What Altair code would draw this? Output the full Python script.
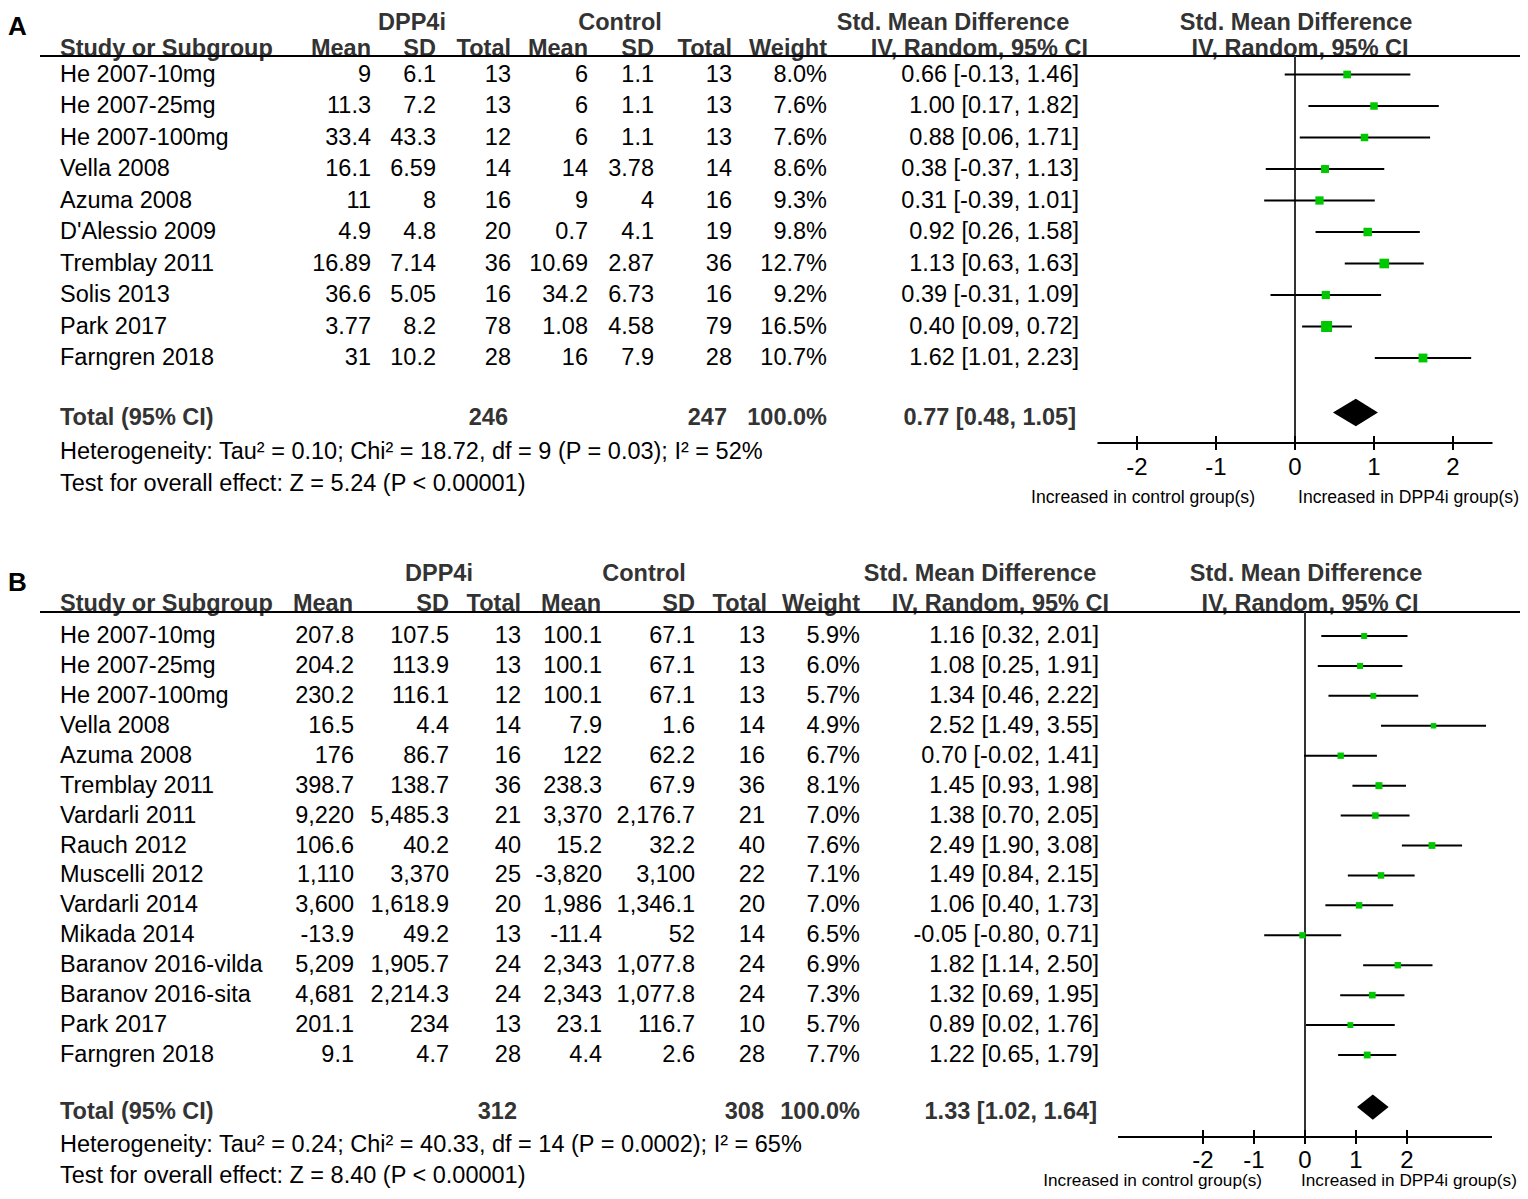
import altair as alt
import pandas as pd

FONT = "Liberation Sans"
FS = 23.5
GRAY = "#333333"
GREEN = "#00c800"

# ---------------- Panel A data ----------------
a_study = ["He 2007-10mg", "He 2007-25mg", "He 2007-100mg", "Vella 2008", "Azuma 2008",
           "D'Alessio 2009", "Tremblay 2011", "Solis 2013", "Park 2017", "Farngren 2018"]
a_dpp_mean = ["9", "11.3", "33.4", "16.1", "11", "4.9", "16.89", "36.6", "3.77", "31"]
a_dpp_sd = ["6.1", "7.2", "43.3", "6.59", "8", "4.8", "7.14", "5.05", "8.2", "10.2"]
a_dpp_n = [13, 13, 12, 14, 16, 20, 36, 16, 78, 28]
a_ctl_mean = ["6", "6", "6", "14", "9", "0.7", "10.69", "34.2", "1.08", "16"]
a_ctl_sd = ["1.1", "1.1", "1.1", "3.78", "4", "4.1", "2.87", "6.73", "4.58", "7.9"]
a_ctl_n = [13, 13, 13, 14, 16, 19, 36, 16, 79, 28]
a_weight = [8.0, 7.6, 7.6, 8.6, 9.3, 9.8, 12.7, 9.2, 16.5, 10.7]
a_smd = [0.66, 1.00, 0.88, 0.38, 0.31, 0.92, 1.13, 0.39, 0.40, 1.62]
a_lo = [-0.13, 0.17, 0.06, -0.37, -0.39, 0.26, 0.63, -0.31, 0.09, 1.01]
a_hi = [1.46, 1.82, 1.71, 1.13, 1.01, 1.58, 1.63, 1.09, 0.72, 2.23]
a_tot_n = [246, 247]
a_tot_est = [0.77, 0.48, 1.05]
a_het = "Heterogeneity: Tau² = 0.10; Chi² = 18.72, df = 9 (P = 0.03); I² = 52%"
a_test = "Test for overall effect: Z = 5.24 (P < 0.00001)"

# ---------------- Panel B data ----------------
b_study = ["He 2007-10mg", "He 2007-25mg", "He 2007-100mg", "Vella 2008", "Azuma 2008",
           "Tremblay 2011", "Vardarli 2011", "Rauch 2012", "Muscelli 2012", "Vardarli 2014",
           "Mikada 2014", "Baranov 2016-vilda", "Baranov 2016-sita", "Park 2017", "Farngren 2018"]
b_dpp_mean = ["207.8", "204.2", "230.2", "16.5", "176", "398.7", "9,220", "106.6", "1,110",
              "3,600", "-13.9", "5,209", "4,681", "201.1", "9.1"]
b_dpp_sd = ["107.5", "113.9", "116.1", "4.4", "86.7", "138.7", "5,485.3", "40.2", "3,370",
            "1,618.9", "49.2", "1,905.7", "2,214.3", "234", "4.7"]
b_dpp_n = [13, 13, 12, 14, 16, 36, 21, 40, 25, 20, 13, 24, 24, 13, 28]
b_ctl_mean = ["100.1", "100.1", "100.1", "7.9", "122", "238.3", "3,370", "15.2", "-3,820",
              "1,986", "-11.4", "2,343", "2,343", "23.1", "4.4"]
b_ctl_sd = ["67.1", "67.1", "67.1", "1.6", "62.2", "67.9", "2,176.7", "32.2", "3,100",
            "1,346.1", "52", "1,077.8", "1,077.8", "116.7", "2.6"]
b_ctl_n = [13, 13, 13, 14, 16, 36, 21, 40, 22, 20, 14, 24, 24, 10, 28]
b_weight = [5.9, 6.0, 5.7, 4.9, 6.7, 8.1, 7.0, 7.6, 7.1, 7.0, 6.5, 6.9, 7.3, 5.7, 7.7]
b_smd = [1.16, 1.08, 1.34, 2.52, 0.70, 1.45, 1.38, 2.49, 1.49, 1.06, -0.05, 1.82, 1.32, 0.89, 1.22]
b_lo = [0.32, 0.25, 0.46, 1.49, -0.02, 0.93, 0.70, 1.90, 0.84, 0.40, -0.80, 1.14, 0.69, 0.02, 0.65]
b_hi = [2.01, 1.91, 2.22, 3.55, 1.41, 1.98, 2.05, 3.08, 2.15, 1.73, 0.71, 2.50, 1.95, 1.76, 1.79]
b_tot_n = [312, 308]
b_tot_est = [1.33, 1.02, 1.64]
b_het = "Heterogeneity: Tau² = 0.24; Chi² = 40.33, df = 14 (P = 0.0002); I² = 65%"
b_test = "Test for overall effect: Z = 8.40 (P < 0.00001)"

ticks = [-2, -1, 0, 1, 2]

W, H = 1512, 1183


def fmt_ci(e, l, h):
    return f"{e:.2f} [{l:.2f}, {h:.2f}]"


def col_layer(values, x, align, ysc, **style):
    df = pd.DataFrame({"row": list(range(len(values))), "text": [str(v) for v in values]})
    st = dict(fontSize=FS, color="black")
    st.update(style)
    return alt.Chart(df).mark_text(align=align, baseline="middle", font=FONT, **st).encode(
        x=alt.value(x), y=alt.Y("row:Q", scale=ysc, axis=None), text="text:N")


def label(text, x, y, align, **style):
    df = pd.DataFrame({"text": [text]})
    st = dict(fontSize=FS, color="black")
    st.update(style)
    return alt.Chart(df).mark_text(align=align, baseline="middle", font=FONT, **st).encode(
        x=alt.value(x), y=alt.value(y), text="text:N")


def hline(x1, x2, y, color="black", sw=2):
    df = pd.DataFrame({"k": [0]})
    return alt.Chart(df).mark_rule(color=color, strokeWidth=sw).encode(
        x=alt.value(x1), x2=alt.value(x2), y=alt.value(y))


def panel(p):
    n = len(p["study"])
    ysc = alt.Scale(domain=[0, n - 1], range=p["yrange"], nice=False, zero=False)
    xsc = alt.Scale(domain=p["xdomain"], range=p["xrange"], nice=False, zero=False)
    c = p["cols"]
    L = []
    # panel letter
    L.append(label(p["letter"], 0, p["letter_y"], "left", fontSize=26, fontWeight="bold"))
    # header row 1
    hb = dict(fontWeight="bold", color=GRAY)
    y1, y2 = p["hdr_y"]
    L.append(label("DPP4i", c["h1_dpp"], y1, "center", **hb))
    L.append(label("Control", c["h1_ctl"], y1, "center", **hb))
    L.append(label("Std. Mean Difference", c["h1_smd"], y1, "center", **hb))
    L.append(label("Std. Mean Difference", c["h1_plot"], y1, "center", **hb))
    # header row 2
    L.append(label("Study or Subgroup", c["name"], y2, "left", **hb))
    for key, txt in [("mean", "Mean"), ("sd", "SD"), ("n", "Total"), ("cmean", "Mean"),
                     ("csd", "SD"), ("cn", "Total"), ("w", "Weight")]:
        L.append(label(txt, c["h2_" + key], y2, "right", **hb))
    L.append(label("IV, Random, 95% CI", c["h2_ci"], y2, "right", **hb))
    L.append(label("IV, Random, 95% CI", c["h2_plot"], y2, "center", **hb))
    # underline
    L.append(hline(32, W, p["line_y"]))
    # body columns
    L.append(col_layer(p["study"], c["name"], "left", ysc))
    L.append(col_layer(p["mean"], c["mean"], "right", ysc))
    L.append(col_layer(p["sd"], c["sd"], "right", ysc))
    L.append(col_layer(p["n"], c["n"], "right", ysc))
    L.append(col_layer(p["cmean"], c["cmean"], "right", ysc))
    L.append(col_layer(p["csd"], c["csd"], "right", ysc))
    L.append(col_layer(p["cn"], c["cn"], "right", ysc))
    L.append(col_layer([f"{w:.1f}%" for w in p["weight"]], c["w"], "right", ysc))
    L.append(col_layer([fmt_ci(e, l, h) for e, l, h in zip(p["smd"], p["lo"], p["hi"])],
                       c["ci"], "right", ysc))
    # totals
    ty = p["tot_y"]
    L.append(label("Total (95% CI)", c["name"], ty, "left", **hb))
    L.append(label(str(p["tot_n"][0]), c["t_n"], ty, "right", **hb))
    L.append(label(str(p["tot_n"][1]), c["t_cn"], ty, "right", **hb))
    L.append(label("100.0%", c["t_w"], ty, "right", **hb))
    L.append(label(fmt_ci(*p["tot_est"]), c["t_ci"], ty, "right", **hb))
    L.append(label(p["het"], c["name"], p["het_y"], "left"))
    L.append(label(p["test"], c["name"], p["test_y"], "left"))

    # forest plot
    ay = p["axis_y"]
    zdf = pd.DataFrame({"z": [0]})
    L.append(alt.Chart(zdf).mark_rule(color=GRAY, strokeWidth=2).encode(
        x=alt.X("z:Q", scale=xsc, axis=None), y=alt.value(p["line_y"]), y2=alt.value(ay)))
    fdf = pd.DataFrame({"row": list(range(n)), "smd": p["smd"], "lo": p["lo"],
                        "hi": p["hi"], "w": p["weight"]})
    L.append(alt.Chart(fdf).mark_rule(color="black", strokeWidth=2).encode(
        x=alt.X("lo:Q", scale=xsc, axis=None), x2="hi:Q",
        y=alt.Y("row:Q", scale=ysc, axis=None)))
    L.append(alt.Chart(fdf).mark_square(color=GREEN, opacity=1, filled=True).encode(
        x=alt.X("smd:Q", scale=xsc, axis=None),
        y=alt.Y("row:Q", scale=ysc, axis=None),
        size=alt.Size("w:Q", scale=alt.Scale(domain=[0, max(p["weight"])],
                                             range=[0, p["sq_max"]]), legend=None)))
    e, l, h = p["tot_est"]
    cy, dh = p["dia_row"], p["dia_h"]
    ddf = pd.DataFrame({"x": [l, e, h], "y": [cy, cy - dh, cy], "y2": [cy, cy + dh, cy]})
    L.append(alt.Chart(ddf).mark_area(color="black", opacity=1).encode(
        x=alt.X("x:Q", scale=xsc, axis=None),
        y=alt.Y("y:Q", scale=ysc, axis=None), y2="y2:Q"))
    # axis
    adf = pd.DataFrame({"a": [p["xdomain"][0]], "b": [p["xdomain"][1]]})
    L.append(alt.Chart(adf).mark_rule(color="black", strokeWidth=2).encode(
        x=alt.X("a:Q", scale=xsc, axis=None), x2="b:Q", y=alt.value(ay)))
    tdf = pd.DataFrame({"t": ticks, "text": [str(t) for t in ticks]})
    L.append(alt.Chart(tdf).mark_rule(color="black", strokeWidth=2).encode(
        x=alt.X("t:Q", scale=xsc, axis=None), y=alt.value(ay - 7), y2=alt.value(ay + 7)))
    L.append(alt.Chart(tdf).mark_text(font=FONT, fontSize=24, baseline="middle",
                                      align="center", color="black").encode(
        x=alt.X("t:Q", scale=xsc, axis=None), y=alt.value(p["tick_y"]), text="text:N"))
    L.append(label("Increased in control group(s)", p["inc_left"], p["inc_y"], "right",
                   fontSize=p["inc_fs"]))
    L.append(label("Increased in DPP4i group(s)", p["inc_right"], p["inc_y"], "left",
                   fontSize=p["inc_fs"]))
    return L


# layout (chart coordinates)
PA = dict(
    letter="A", letter_y=19, hdr_y=(14.5, 41), line_y=48,
    study=a_study, mean=a_dpp_mean, sd=a_dpp_sd, n=a_dpp_n, cmean=a_ctl_mean, csd=a_ctl_sd,
    cn=a_ctl_n, weight=a_weight, smd=a_smd, lo=a_lo, hi=a_hi, tot_n=a_tot_n,
    tot_est=a_tot_est, het=a_het, test=a_test,
    yrange=[66.5, 350], xdomain=[-2.5, 2.5], xrange=[1089.5, 1484.5],
    cols=dict(h1_dpp=404, h1_ctl=612, h1_smd=945, h1_plot=1288, name=52,
              h2_mean=363, h2_sd=428, h2_n=503, h2_cmean=580, h2_csd=646, h2_cn=724,
              h2_w=819, h2_ci=1080, h2_plot=1292,
              mean=363, sd=428, n=503, cmean=580, csd=646, cn=724, w=819, ci=1071,
              t_n=500, t_cn=719, t_w=819, t_ci=1068),
    tot_y=410, het_y=444, test_y=476, axis_y=435, tick_y=460,
    inc_left=1247, inc_right=1290, inc_y=490, inc_fs=17.6,
    dia_row=10.73, dia_h=0.44, sq_max=121,
)

PB = dict(
    letter="B", letter_y=575, hdr_y=(566, 596), line_y=604,
    study=b_study, mean=b_dpp_mean, sd=b_dpp_sd, n=b_dpp_n, cmean=b_ctl_mean, csd=b_ctl_sd,
    cn=b_ctl_n, weight=b_weight, smd=b_smd, lo=b_lo, hi=b_hi, tot_n=b_tot_n,
    tot_est=b_tot_est, het=b_het, test=b_test,
    yrange=[628, 1047], xdomain=[-3.667, 3.667], xrange=[1110, 1484],
    cols=dict(h1_dpp=431, h1_ctl=636, h1_smd=972, h1_plot=1298, name=52,
              h2_mean=345, h2_sd=441, h2_n=513, h2_cmean=593, h2_csd=687, h2_cn=759,
              h2_w=852, h2_ci=1101, h2_plot=1302,
              mean=346, sd=441, n=513, cmean=594, csd=687, cn=757, w=852, ci=1091,
              t_n=509, t_cn=756, t_w=852, t_ci=1089),
    tot_y=1104, het_y=1137, test_y=1168, axis_y=1129, tick_y=1153,
    inc_left=1254, inc_right=1293, inc_y=1173, inc_fs=17.2,
    dia_row=15.74, dia_h=0.42, sq_max=49,
)

layers = panel(PA) + panel(PB)

chart = alt.layer(*layers).resolve_scale(
    x="independent", y="independent", size="independent"
).properties(
    width=W, height=H, padding=0, autosize=alt.AutoSizeParams(type="none")
).configure_view(strokeWidth=0)

chart.save("out.html", embed_options={"renderer": "svg", "actions": False})
